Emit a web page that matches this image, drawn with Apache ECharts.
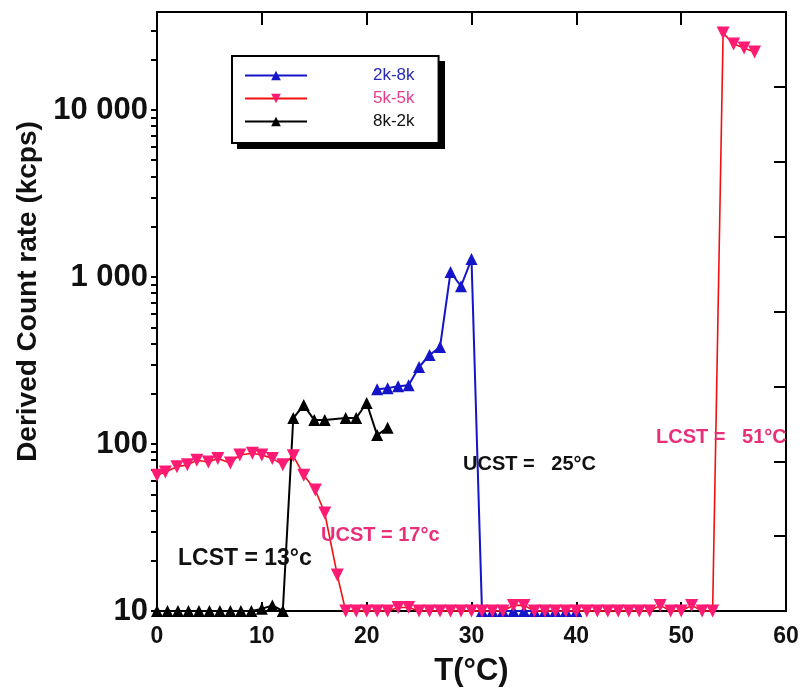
<!DOCTYPE html>
<html>
<head>
<meta charset="utf-8">
<script src="https://cdn.jsdelivr.net/npm/echarts@6/dist/echarts.min.js"></script>
<style>
  html, body { margin: 0; padding: 0; background: #fff; }
  #chart { width: 800px; height: 693px; }
</style>
</head>
<body>
<div id="chart"></div>
<script>
// 2k-8k
var blueT = [21, 22, 23, 24, 25, 26, 27, 28, 29, 30, 31, 32, 33, 34, 35, 36, 37, 38, 39, 40]
var blueV = [213, 216, 222, 225, 289, 341, 381, 1070, 880, 1280, 10, 10, 10, 10, 10, 10, 10, 10, 10, 10]

// 5k-5k
var redT = [0, 0.8, 1.9, 2.9, 3.8, 4.9, 5.8, 7, 7.9, 9.1, 10, 11, 12, 13, 14, 15.1, 16, 17.2,
  18, 19, 20, 21, 22, 23, 24, 25, 26, 27, 28, 29, 30, 31, 32, 33, 34, 35, 36, 37, 38, 39,
  40, 41, 42, 43, 44, 45, 46, 47, 48, 49, 50, 51, 52, 53, 54, 55, 56, 57]
var redV = [65, 68, 73, 75, 80, 78, 82, 77, 86, 88, 86, 82, 75, 85, 65, 53, 38.6, 16.4,
  10, 10, 10, 10, 10, 10.5, 10.5, 10, 10, 10, 10, 10, 10, 10, 10, 10, 10.8, 10.8, 10, 10, 10, 10,
  10, 10, 10, 10, 10, 10, 10, 10, 10.8, 10, 10, 10.8, 10, 10, 28900, 24800, 23500, 22200]

// 8k-2k
var blackT = [0, 1, 2, 3, 4, 5, 6, 7, 8, 9, 10, 11, 12, 13, 14, 15, 16, 18, 19, 20, 21, 22]
var blackV = [10, 10, 10, 10, 10, 10, 10, 10, 10, 10, 10.3, 10.8, 10, 143, 171, 139, 139, 143, 143, 176, 113, 125]

var yLabelValues = [10, 100, 1000, 10000]
var yTickValues = [10, 20, 30, 40, 50, 60, 70, 80, 90,
  100, 200, 300, 400, 500, 600, 700, 800, 900,
  1000, 2000, 3000, 4000, 5000, 6000, 7000, 8000, 9000,
  10000, 20000, 30000]

var FONT = '"Liberation Sans", Arial, sans-serif'
var COLORS = {
  blue: '#1414C8',
  red: '#F01010',
  pink: '#FF1A73',
  pinkText: '#E8307A',
  black: '#000000'
}

function zip(xs, ys) {
  return xs.map(function (x, i) { return [x, ys[i]] })
}

// thousands separated by a space, like "10 000"
function fmtThousands(v) {
  return String(v).replace(/\B(?=(\d{3})+(?!\d))/g, ' ')
}

var chart = echarts.init(document.getElementById('chart'))

var option = {
  animation: false,
  grid: { left: 157, right: 14, top: 12, bottom: 82, outerBoundsMode: 'none' },
  legend: {
    orient: 'vertical',
    left: 232,
    top: 56,
    z: 10,
    data: [
      { name: '2k-8k', textStyle: { color: '#2A2AB8' } },
      { name: '5k-5k', textStyle: { color: '#E83D8C' } },
      { name: '8k-2k', textStyle: { color: '#111' } }
    ],
    itemWidth: 62,
    itemHeight: 12,
    itemGap: 6,
    padding: [11, 24, 13, 12],
    backgroundColor: '#fff',
    borderColor: '#000',
    borderWidth: 2,
    borderRadius: 0,
    textStyle: { fontFamily: FONT, fontSize: 17, padding: [0, 0, 0, 61] }
  },
  xAxis: [
    {
      type: 'value',
      min: 0,
      max: 60,
      interval: 10,
      position: 'bottom',
      name: 'T(°C)',
      nameLocation: 'middle',
      nameGap: 45,
      nameMoveOverlap: false,
      nameTextStyle: { fontFamily: FONT, fontSize: 31, fontWeight: 'bold', color: '#111' },
      axisLine: { onZero: false, lineStyle: { color: '#000', width: 2 } },
      axisTick: { inside: true, length: 9, lineStyle: { color: '#000', width: 2 } },
      axisLabel: { fontFamily: FONT, fontSize: 23, fontWeight: 'bold', color: '#111', margin: 14 },
      splitLine: { show: false }
    },
    {
      type: 'value',
      min: 0,
      max: 60,
      interval: 10,
      position: 'top',
      axisLine: { onZero: false, lineStyle: { color: '#000', width: 2 } },
      axisTick: { inside: true, length: 13, lineStyle: { color: '#000', width: 2 } },
      axisLabel: { show: false },
      splitLine: { show: false }
    }
  ],
  yAxis: [
    {
      type: 'log',
      logBase: 10,
      min: 10,
      max: 38600,
      position: 'left',
      name: 'Derived Count rate (kcps)',
      nameLocation: 'middle',
      nameGap: 115,
      nameMoveOverlap: false,
      nameTextStyle: { fontFamily: FONT, fontSize: 28, fontWeight: 'bold', color: '#111', padding: [0, 0, 0, 40] },
      axisLine: { onZero: false, lineStyle: { color: '#000', width: 2 } },
      axisTick: { inside: false, length: 6, customValues: yTickValues, lineStyle: { color: '#000', width: 2 } },
      axisLabel: {
        customValues: yLabelValues,
        fontFamily: FONT,
        fontSize: 31,
        fontWeight: 'bold',
        color: '#111',
        margin: 9,
        formatter: function (v) { return fmtThousands(v) }
      },
      splitLine: { show: false }
    },
    {
      type: 'value',
      min: 0,
      max: 8,
      interval: 1,
      position: 'right',
      axisLine: { onZero: false, lineStyle: { color: '#000', width: 2 } },
      axisTick: { inside: true, length: 12, lineStyle: { color: '#000', width: 2 } },
      axisLabel: { show: false },
      splitLine: { show: false }
    }
  ],
  series: [
    {
      name: '2k-8k',
      type: 'line',
      data: zip(blueT, blueV),
      clip: false,
      symbol: 'triangle',
      symbolSize: 12,
      lineStyle: { color: COLORS.blue, width: 2 },
      itemStyle: { color: COLORS.blue },
      z: 2
    },
    {
      name: '5k-5k',
      type: 'line',
      data: zip(redT, redV),
      clip: false,
      symbol: 'triangle',
      symbolRotate: 180,
      symbolSize: 13,
      lineStyle: { color: COLORS.red, width: 1.6 },
      itemStyle: { color: COLORS.pink },
      z: 4
    },
    {
      name: '8k-2k',
      type: 'line',
      data: zip(blackT, blackV),
      clip: false,
      symbol: 'triangle',
      symbolSize: 12,
      lineStyle: { color: COLORS.black, width: 2 },
      itemStyle: { color: COLORS.black },
      z: 3
    }
  ],
  graphic: [
    // legend drop shadow
    {
      type: 'rect', z: 0,
      shape: { x: 237, y: 61, width: 208, height: 88 },
      style: { fill: '#000' }
    },
    {
      type: 'text', left: 178, top: 547, z: 10,
      style: { text: 'LCST = 13°c', fontFamily: FONT, fontSize: 23, fontWeight: 'bold', fill: '#111' }
    },
    {
      type: 'text', left: 321, top: 525, z: 10,
      style: { text: 'UCST = 17°c', fontFamily: FONT, fontSize: 20, fontWeight: 'bold', fill: COLORS.pinkText }
    },
    {
      type: 'text', left: 463, top: 454, z: 10,
      style: { text: 'UCST =   25°C', fontFamily: FONT, fontSize: 20, fontWeight: 'bold', fill: '#111' }
    },
    {
      type: 'text', left: 656, top: 427, z: 10,
      style: { text: 'LCST =   51°C', fontFamily: FONT, fontSize: 20, fontWeight: 'bold', fill: COLORS.pinkText }
    }
  ]
}

chart.setOption(option)
</script>
</body>
</html>
